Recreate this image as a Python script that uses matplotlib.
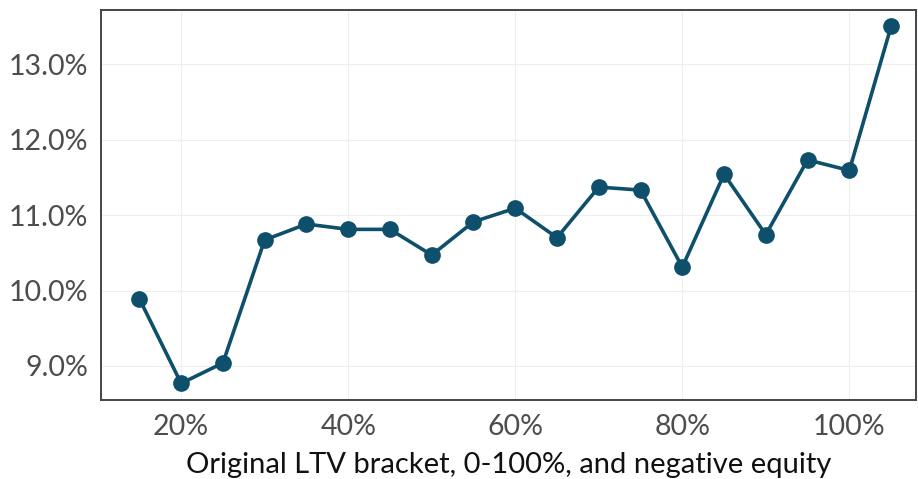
import matplotlib.pyplot as plt
from matplotlib.ticker import FuncFormatter

# LTV bracket (%) and default rate (%)
ltv = [15, 20, 25, 30, 35, 40, 45, 50, 55, 60, 65, 70, 75, 80, 85, 90, 95, 100, 105]
rate = [9.89, 8.77, 9.04, 10.67, 10.88, 10.81, 10.81, 10.47, 10.91, 11.09, 10.70,
        11.37, 11.33, 10.31, 11.54, 10.74, 11.73, 11.59, 13.50]

xticks = [20, 40, 60, 80, 100]
yticks = [9, 10, 11, 12, 13]

plt.rcParams['font.family'] = ['Lato', 'DejaVu Sans']

fig = plt.figure(figsize=(9.18, 4.79), dpi=100)
ax = fig.add_axes([0.110, 0.165, 0.888, 0.814])

ax.plot(ltv, rate, color='#0e4f6b', lw=2.6, marker='o', ms=11, zorder=3)

ax.set_xlim(10.4, 108.0)
ax.set_ylim(8.55, 13.715)
ax.set_xticks(xticks)
ax.set_yticks(yticks)
ax.xaxis.set_major_formatter(FuncFormatter(lambda v, p: f"{v:.0f}%"))
ax.yaxis.set_major_formatter(FuncFormatter(lambda v, p: f"{v:.1f}%"))
ax.tick_params(length=0, labelsize=20.5, labelcolor='#4d4d4d')
ax.tick_params(axis='x', pad=10)
ax.tick_params(axis='y', pad=9)
ax.grid(True, color='#eeeeee', lw=0.8)
ax.set_axisbelow(True)
for s in ax.spines.values():
    s.set_color('#444444')
    s.set_linewidth(1.4)

ax.set_xlabel("Original LTV bracket, 0-100%, and negative equity", fontsize=21,
              color='#111111', labelpad=9)

fig.savefig('out.png', dpi=100)
